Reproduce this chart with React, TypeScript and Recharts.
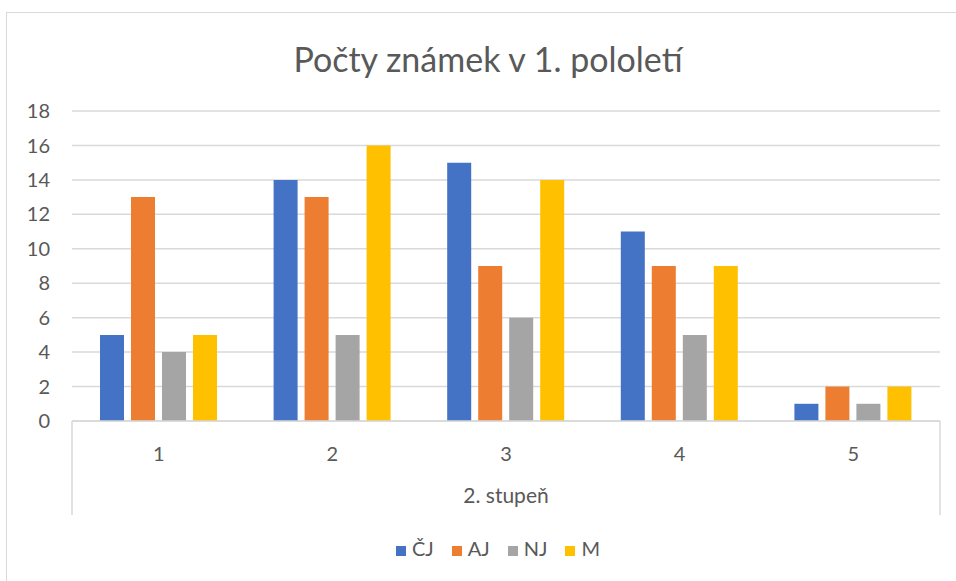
import { BarChart, Bar, XAxis, YAxis, CartesianGrid, Legend } from "recharts";

// známky 1-5, počty žáků podle předmětu
const grades = ["1", "2", "3", "4", "5"];
const cj = [5, 14, 15, 11, 1];
const aj = [13, 13, 9, 9, 2];
const nj = [4, 5, 6, 5, 1];
const m = [5, 16, 14, 9, 2];
const groupLabel = "2. stupeň";
const yTicks = [0, 2, 4, 6, 8, 10, 12, 14, 16, 18];
const seriesOrder = ["CJ", "AJ", "NJ", "M"];

const data = grades.map((g, i) => ({
  grade: g,
  group: groupLabel,
  CJ: cj[i],
  AJ: aj[i],
  NJ: nj[i],
  M: m[i],
}));

const W = 956;
const H = 581;
const MARGIN = { top: 111, right: 16, bottom: 21, left: 0 };
const Y_W = 72;
const AXIS1_H = 60;
const AXIS2_H = 55;
const LINE_BELOW = 34;
const PLOT_LEFT = MARGIN.left + Y_W;
const PLOT_RIGHT = W - MARGIN.right;

const TEXT = "#595959";
const GRID = "#D9D9D9";
const FONT = "Lato, 'Open Sans', sans-serif";

function GroupTick(props: any) {
  const { x, y, payload } = props;
  const top = y - AXIS1_H;
  const bottom = y + LINE_BELOW;
  return (
    <g>
      <line x1={PLOT_LEFT} y1={top} x2={PLOT_LEFT} y2={bottom} stroke={GRID} strokeWidth={1.5} />
      <line x1={PLOT_RIGHT} y1={top} x2={PLOT_RIGHT} y2={bottom} stroke={GRID} strokeWidth={1.5} />
      <text x={x} y={y + 7} dy="0.71em" textAnchor="middle" fill={TEXT} fontSize={21} fontFamily={FONT}>
        {payload.value}
      </text>
    </g>
  );
}

export default function App() {
  return (
    <div style={{ position: "absolute", left: 0, top: 0, width: W, height: H, overflow: "hidden", background: "#fff", fontFamily: FONT }}>
      <div style={{ position: "absolute", left: 6, top: 12, width: W, height: H + 20, border: "1.5px solid #D9D9D9", boxSizing: "border-box" }} />
      <div
        style={{
          position: "absolute",
          left: 0,
          top: 42,
          width: 976,
          textAlign: "center",
          fontSize: 34,
          lineHeight: 1,
          color: TEXT,
        }}
      >
        Počty známek v 1. pololetí
      </div>
      <div style={{ position: "absolute", left: 0, top: 0 }}>
        <BarChart width={W} height={H} data={data} margin={MARGIN} barGap={7} barSize={24}>
          <CartesianGrid vertical={false} stroke={GRID} strokeWidth={1.5} />
          <XAxis
            dataKey="grade"
            height={AXIS1_H}
            axisLine={{ stroke: GRID, strokeWidth: 1.5 }}
            tickLine={false}
            tickSize={0}
            tickMargin={26}
            tick={{ fill: TEXT, fontSize: 20, fontFamily: FONT }}
          />
          <XAxis
            xAxisId="group"
            dataKey="group"
            allowDuplicatedCategory={false}
            height={AXIS2_H}
            axisLine={false}
            tickLine={false}
            tickSize={0}
            tickMargin={0}
            tick={<GroupTick />}
          />
          <YAxis
            width={Y_W}
            domain={[0, 18]}
            ticks={yTicks}
            axisLine={false}
            tickLine={false}
            tickSize={0}
            tickMargin={22}
            tick={{ fill: TEXT, fontSize: 20, fontFamily: FONT }}
          />
          <Legend
            verticalAlign="bottom"
            iconType="square"
            iconSize={10}
            itemSorter={(item: any) => seriesOrder.indexOf(item.dataKey)}
            wrapperStyle={{ left: 40, width: W - 22, fontSize: 20, fontFamily: FONT }}
            formatter={(value: string) => (
              <span style={{ color: TEXT, marginLeft: 2, marginRight: 8 }}>{value}</span>
            )}
          />
          <Bar dataKey="CJ" name="ČJ" fill="#4472C4" isAnimationActive={false} />
          <Bar dataKey="AJ" name="AJ" fill="#ED7D31" isAnimationActive={false} />
          <Bar dataKey="NJ" name="NJ" fill="#A5A5A5" isAnimationActive={false} />
          <Bar dataKey="M" name="M" fill="#FFC000" isAnimationActive={false} />
        </BarChart>
      </div>
    </div>
  );
}
